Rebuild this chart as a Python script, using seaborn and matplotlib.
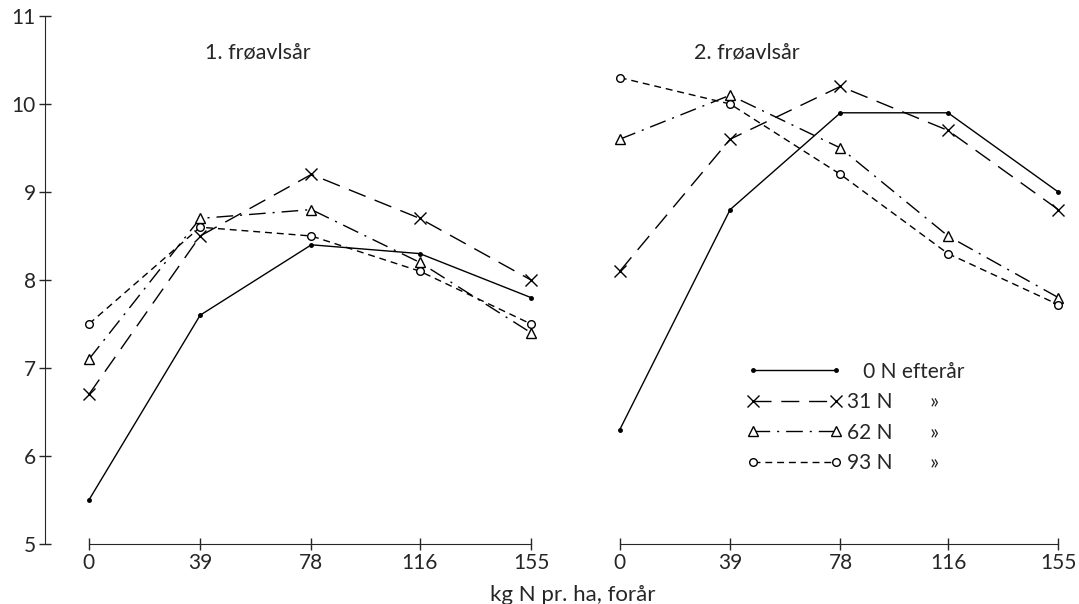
import pandas as pd
import matplotlib.pyplot as plt
import seaborn as sns
from matplotlib.lines import Line2D

# Data
doses_spring = [0, 39, 78, 116, 155]          # kg N pr. ha, forår
autumn_labels = ['0 N', '31 N', '62 N', '93 N']

year1_0n = [5.5, 7.6, 8.4, 8.3, 7.8]
year1_31n = [6.7, 8.5, 9.2, 8.7, 8.0]
year1_62n = [7.1, 8.7, 8.8, 8.2, 7.4]
year1_93n = [7.5, 8.6, 8.5, 8.1, 7.5]

year2_0n = [6.3, 8.8, 9.9, 9.9, 9.0]
year2_31n = [8.1, 9.6, 10.2, 9.7, 8.8]
year2_62n = [9.6, 10.1, 9.5, 8.5, 7.8]
year2_93n = [10.3, 10.0, 9.2, 8.3, 7.72]

legend_labels = ['   0 N efterår', '31 N       »', '62 N       »', '93 N       »']

sns.set_style('ticks')
plt.rcParams['font.family'] = ['Lato', 'DejaVu Sans']

# line style per autumn dose
styles = {
    '0 N': dict(marker='.', ms=5, ls='-', mfc='black'),
    '31 N': dict(marker='x', ms=8, ls=(0, (13, 7)), mfc='white'),
    '62 N': dict(marker='^', ms=6.5, ls=(0, (12, 5, 1.5, 5)), mfc='white'),
    '93 N': dict(marker='o', ms=5.5, ls=(0, (5, 3.5)), mfc='white'),
}

def make_frame(series):
    rows = []
    for lab, vals in zip(autumn_labels, series):
        for d, v in zip(doses_spring, vals):
            rows.append({'dose': d, 'yield': v, 'autumn': lab})
    return pd.DataFrame(rows)

df1 = make_frame([year1_0n, year1_31n, year1_62n, year1_93n])
df2 = make_frame([year2_0n, year2_31n, year2_62n, year2_93n])

fig = plt.figure(figsize=(10.79, 6.04), dpi=100)
ax1 = fig.add_axes([45 / 1079, 60 / 604, 500 / 1079, 528 / 604])
ax2 = fig.add_axes([600 / 1079, 60 / 604, 475 / 1079, 528 / 604])

for ax, df in [(ax1, df1), (ax2, df2)]:
    for lab in autumn_labels:
        st = styles[lab]
        sns.lineplot(data=df[df['autumn'] == lab], x='dose', y='yield', ax=ax,
                     color='black', lw=1.0, linestyle=st['ls'], marker=st['marker'],
                     ms=st['ms'], mfc=st['mfc'], mec='black', mew=1.0,
                     clip_on=False, legend=False)
    ax.set_ylim(5, 11)
    ax.set_xticks(doses_spring)
    ax.set_xlabel('')
    ax.set_ylabel('')
    ax.spines['top'].set_visible(False)
    ax.spines['right'].set_visible(False)
    ax.spines['bottom'].set_bounds(0, 155)
    ax.tick_params(axis='x', direction='inout', length=9, width=1, labelsize=15, pad=2)
    ax.tick_params(axis='y', direction='inout', length=9, width=1, labelsize=15, pad=2)

ax1.set_xlim(-15.4, 159.9)
ax2.set_xlim(-7.0, 160.9)
ax1.set_yticks(range(5, 12))

ax2.spines['left'].set_visible(False)
ax2.set_yticks([])

ax1.text(40.7, 10.52, '1. frøavlsår', ha='left', va='baseline', fontsize=15.5)
ax2.text(26.4, 10.52, '2. frøavlsår', ha='left', va='baseline', fontsize=15.5)

fig.text(573 / 1079, 3 / 604, 'kg N pr. ha, forår', ha='center', va='baseline', fontsize=16)

handles = []
for lab in autumn_labels:
    st = styles[lab]
    handles.append(Line2D([], [], color='black', lw=1.0, linestyle=st['ls'],
                          marker=st['marker'], ms=st['ms'], mfc=st['mfc'], mec='black', mew=1.0))
ax2.legend(handles, legend_labels, loc='upper left', bbox_to_anchor=(728 / 1079, 261 / 604),
           bbox_transform=fig.transFigure, frameon=False, numpoints=2, handlelength=4.6,
           handletextpad=0.2, labelspacing=0.5, fontsize=15)

fig.savefig('out.png', dpi=100)
